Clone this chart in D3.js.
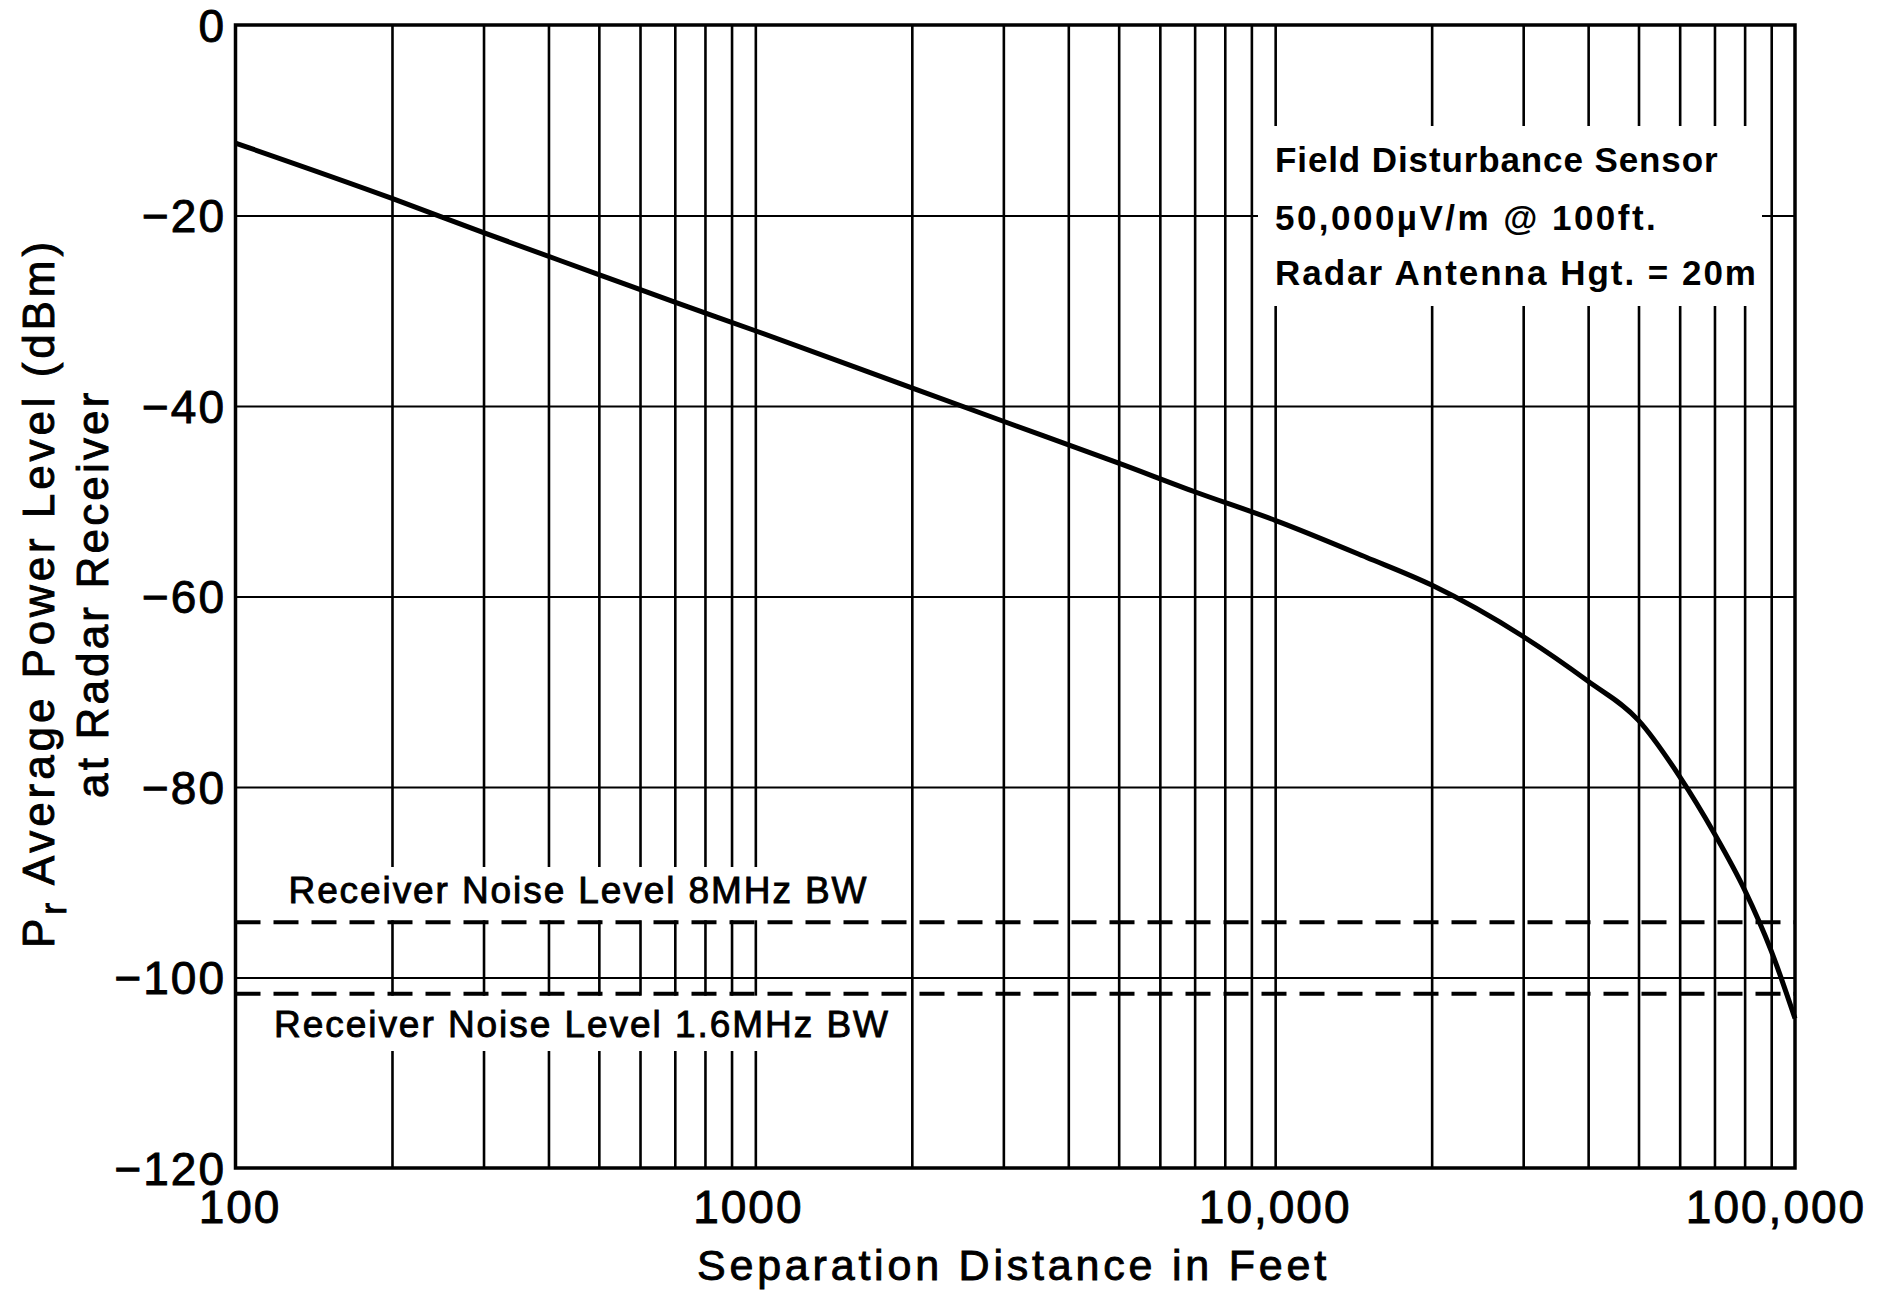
<!DOCTYPE html>
<html>
<head>
<meta charset="utf-8">
<script src="https://cdn.jsdelivr.net/npm/d3@7"></script>
<style>
  html, body { margin: 0; padding: 0; background: #fff; }
  svg { display: block; }
  text { font-family: "Liberation Sans", Arial, Helvetica, sans-serif; fill: #000; }
</style>
</head>
<body>
<svg id="chart" width="1886" height="1293"></svg>
<script>
// ---- data ---------------------------------------------------------------
// Separation distance between sensor and radar (feet)
const distanceFt = [100, 200, 300, 500, 700, 1000, 2000, 3000, 5000, 7000,
                    10000, 15000, 20000, 30000, 40000, 50000, 60000, 70000,
                    80000, 90000, 100000];
// Average power level at the radar receiver (dBm)
const powerDbm = [-12.4, -18.2, -21.8, -26.2, -29.1, -32.1, -38.1, -41.6, -46.0, -49.0,
                  -52.0, -55.9, -58.8, -64.2, -68.9, -73.0, -78.9, -84.9,
                  -90.8, -97.2, -104.3];

// Receiver noise floors
const noiseLabels = ["Receiver Noise Level 8MHz BW", "Receiver Noise Level 1.6MHz BW"];
const noiseDbm = [-94.2, -101.7];

// Axis ticks
const xTickValues = [100, 1000, 10000, 100000];
const xTickLabels = ["100", "1000", "10,000", "100,000"];
const yTickValues = [0, -20, -40, -60, -80, -100, -120];
const yTickLabels = ["0", "\u221220", "\u221240", "\u221260", "\u221280", "\u2212100", "\u2212120"];

// Text
const noteLines = ["Field Disturbance Sensor", "50,000\u00B5V/m @ 100ft.", "Radar Antenna Hgt. = 20m"];
const xTitle = "Separation Distance in Feet";
const yTitleLine2 = "at Radar Receiver";

// ---- layout -------------------------------------------------------------
const plot = { left: 235.5, right: 1795, top: 25, bottom: 1168 };
const xLabelShift = [4.5, -7, 0, -19];

const svg = d3.select("#chart");

const x = d3.scaleLog().domain([100, 100000]).range([plot.left, plot.right]);
const y = d3.scaleLinear().domain([-120, 0]).range([plot.bottom, plot.top]);

// stretch a text element's letter spacing so it spans a given width
function fitWidth(sel, target) {
  sel.each(function () {
    const node = this;
    const natural = node.getComputedTextLength();
    const n = node.textContent.length;
    if (n > 1) d3.select(node).attr("letter-spacing", ((target - natural) / (n - 0.5)).toFixed(3));
  });
  return sel;
}

// ---- grid ---------------------------------------------------------------
const vGrid = x.ticks().filter(v => v > 100 && v < 100000);
svg.append("g")
  .attr("transform", `translate(0,${plot.top})`)
  .call(d3.axisBottom(x).tickValues(vGrid).tickSize(plot.bottom - plot.top).tickFormat(""))
  .call(g => g.select(".domain").remove())
  .call(g => g.selectAll("line").attr("stroke", "#000").attr("stroke-width", 2.6));

svg.append("g")
  .attr("transform", `translate(${plot.left},0)`)
  .call(d3.axisLeft(y).tickValues(yTickValues.filter(v => v > -120 && v < 0))
        .tickSize(-(plot.right - plot.left)).tickFormat(""))
  .call(g => g.select(".domain").remove())
  .call(g => g.selectAll("line").attr("stroke", "#000").attr("stroke-width", 2));

// white panels behind in-plot labels
const panels = [
  { x0: 1258, x1: 1762, y0: 126, y1: 306 },
  { x0: 238, x1: 886, y0: 867, y1: y(noiseDbm[0]) - 2 },
  { x0: 238, x1: 898, y0: y(noiseDbm[1]) + 2, y1: 1051 }
];
svg.append("g").selectAll("rect").data(panels).join("rect")
  .attr("x", d => d.x0).attr("y", d => d.y0)
  .attr("width", d => d.x1 - d.x0).attr("height", d => d.y1 - d.y0)
  .attr("fill", "#fff");

// ---- noise floors -------------------------------------------------------
svg.append("g").selectAll("line").data(noiseDbm).join("line")
  .attr("x1", plot.left).attr("x2", plot.right)
  .attr("y1", d => y(d)).attr("y2", d => y(d))
  .attr("stroke", "#000").attr("stroke-width", 4)
  .attr("stroke-dasharray", "25 13");

// ---- received power curve -------------------------------------------------
const pts = distanceFt.map((d, i) => [d, powerDbm[i]]);
svg.append("path")
  .datum(pts)
  .attr("fill", "none")
  .attr("stroke", "#000")
  .attr("stroke-width", 5)
  .attr("stroke-linejoin", "round")
  .attr("d", d3.line().x(d => x(d[0])).y(d => y(d[1])).curve(d3.curveMonotoneX));

// ---- frame --------------------------------------------------------------
svg.append("rect")
  .attr("x", plot.left).attr("y", plot.top)
  .attr("width", plot.right - plot.left).attr("height", plot.bottom - plot.top)
  .attr("fill", "none").attr("stroke", "#000").attr("stroke-width", 3.5);

// ---- tick labels --------------------------------------------------------
const medium = sel => sel.attr("stroke", "#000").attr("stroke-width", 0.9).attr("paint-order", "stroke");

svg.append("g").selectAll("text").data(xTickValues).join("text")
  .attr("x", (d, i) => x(d) + xLabelShift[i])
  .attr("y", 1223)
  .attr("text-anchor", "middle")
  .attr("font-size", 46)
  .attr("letter-spacing", 2)
  .text((d, i) => xTickLabels[i])
  .call(medium);

svg.append("g").selectAll("text").data(yTickValues).join("text")
  .attr("x", 226)
  .attr("y", d => y(d))
  .attr("dy", "0.36em")
  .attr("text-anchor", "end")
  .attr("font-size", 46)
  .attr("letter-spacing", 2)
  .text((d, i) => yTickLabels[i])
  .call(medium);

// ---- axis titles ----------------------------------------------------------
svg.append("text")
  .attr("x", 697).attr("y", 1280)
  .attr("font-size", 43)
  .text(xTitle)
  .call(medium)
  .call(fitWidth, 631);

const yt1 = svg.append("text")
  .attr("transform", "translate(54,948) rotate(-90)")
  .attr("font-size", 44)
  .call(medium);
yt1.append("tspan").text("P");
yt1.append("tspan").attr("font-size", 36).attr("dy", 12).text("r");
yt1.append("tspan").attr("dy", -12).text(" Average Power Level (dBm)");
fitWidth(yt1, 708);

svg.append("text")
  .attr("transform", "translate(108,798) rotate(-90)")
  .attr("font-size", 44)
  .text(yTitleLine2)
  .call(medium)
  .call(fitWidth, 407);

// ---- annotation block -------------------------------------------------------
const noteBase = [172, 230, 285];
const noteWidth = [443, 382, 482];
svg.append("g").selectAll("text").data(noteLines).join("text")
  .attr("x", 1275)
  .attr("y", (d, i) => noteBase[i])
  .attr("font-size", 35)
  .attr("font-weight", "bold")
  .text(d => d)
  .each(function (d, i) { fitWidth(d3.select(this), noteWidth[i]); });

// ---- noise floor labels -----------------------------------------------------
const noiseLabelX = [288.5, 274];
const noiseLabelY = [903, 1037];
const noiseLabelW = [579, 615];
svg.append("g").selectAll("text").data(noiseLabels).join("text")
  .attr("x", (d, i) => noiseLabelX[i])
  .attr("y", (d, i) => noiseLabelY[i])
  .attr("font-size", 37)
  .text(d => d)
  .call(medium)
  .each(function (d, i) { fitWidth(d3.select(this), noiseLabelW[i]); });
</script>
</body>
</html>
